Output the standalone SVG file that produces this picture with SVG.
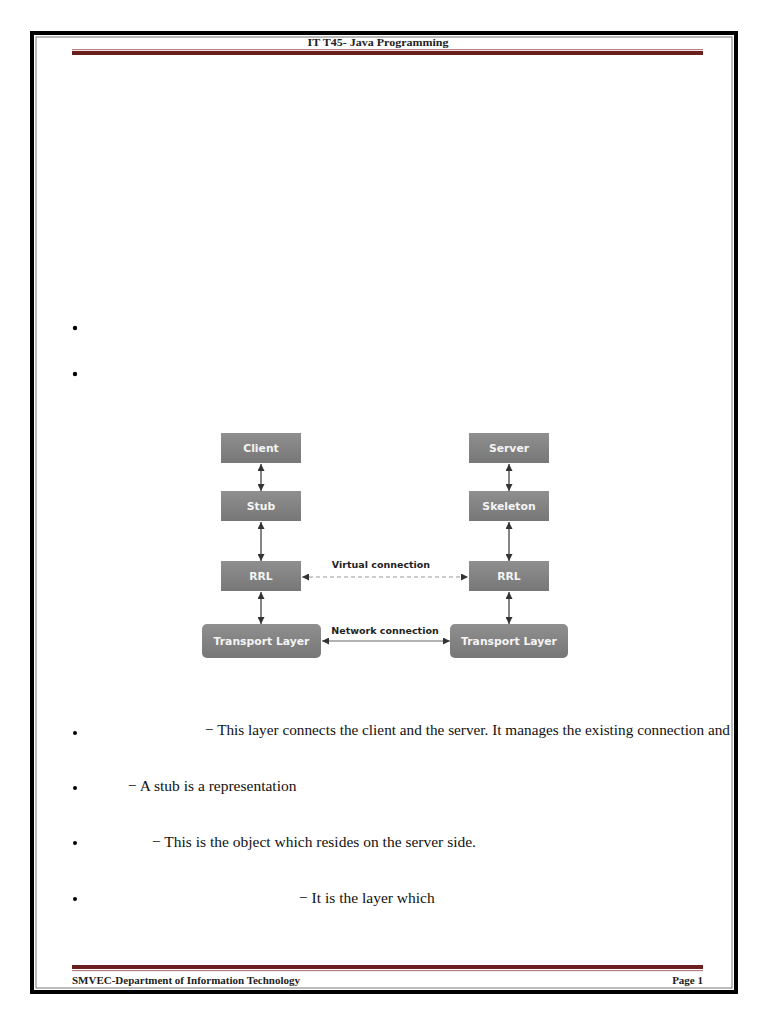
<svg xmlns="http://www.w3.org/2000/svg" width="768" height="1024" viewBox="0 0 768 1024">
<style>
.hdr{font-family:"Liberation Serif","DejaVu Serif",serif;font-size:11px;font-weight:bold;fill:#222;}
.ftr{font-family:"Liberation Serif","DejaVu Serif",serif;font-size:11px;font-weight:bold;fill:#222;}
.body{font-family:"Liberation Serif","Times New Roman",serif;font-size:15.5px;fill:#111;}
.nt{font-family:"DejaVu Sans",Verdana,sans-serif;font-size:10.8px;font-weight:bold;fill:#f4f4f4;text-anchor:middle;}
.lbl{font-family:"DejaVu Sans",Verdana,sans-serif;font-size:9.5px;font-weight:bold;fill:#222;text-anchor:middle;}
.node{fill:url(#g);}
.arr{stroke:#444;stroke-width:1.3;fill:none;marker-start:url(#ah);marker-end:url(#ah);}
.dash{stroke:#999;stroke-width:1.2;stroke-dasharray:4 3;fill:none;marker-start:url(#ah);marker-end:url(#ah);}
.solid{stroke:#666;stroke-width:1.2;fill:none;marker-start:url(#ah);marker-end:url(#ah);}
</style>
<defs>
<linearGradient id="g" x1="0" y1="0" x2="0" y2="1">
<stop offset="0" stop-color="#8f8f8f"/>
<stop offset="1" stop-color="#777"/>
</linearGradient>
<marker id="ah" viewBox="0 0 10 10" refX="10" refY="5" markerWidth="7" markerHeight="7" markerUnits="userSpaceOnUse" orient="auto-start-reverse">
<path d="M0,0 L10,5 L0,10 z" fill="#333"/>
</marker>
</defs>
<rect width="768" height="1024" fill="#fff"/>
<!-- page border -->
<rect x="32" y="33" width="704" height="959" fill="none" stroke="#000" stroke-width="4"/>
<rect x="36" y="37" width="696" height="951" fill="none" stroke="#777" stroke-width="1"/>
<!-- header -->
<text class="hdr" x="378" y="46" text-anchor="middle" textLength="141" lengthAdjust="spacingAndGlyphs">IT T45- Java Programming</text>
<rect x="72" y="49" width="631" height="1.2" fill="#b88080"/>
<rect x="72" y="51" width="631" height="4" fill="#6b1f1f"/>
<!-- footer -->
<rect x="72" y="965" width="631" height="4" fill="#6b1f1f"/>
<rect x="72" y="970" width="631" height="1.2" fill="#b88080"/>
<text class="ftr" x="72" y="984" textLength="228" lengthAdjust="spacingAndGlyphs">SMVEC-Department of Information Technology</text>
<text class="ftr" x="703" y="984" text-anchor="end">Page 1</text>
<!-- bullets -->
<g fill="#000">
<circle cx="75" cy="328" r="2.2"/>
<circle cx="75" cy="374" r="2.2"/>
<circle cx="75" cy="733" r="2"/>
<circle cx="75" cy="788" r="2"/>
<circle cx="75" cy="843" r="2"/>
<circle cx="75" cy="899" r="2"/>
</g>
<text class="body" x="205" y="735" textLength="525" lengthAdjust="spacingAndGlyphs">− This layer connects the client and the server. It manages the existing connection and</text>
<text class="body" x="128" y="791">− A stub is a representation</text>
<text class="body" x="152" y="847">− This is the object which resides on the server side.</text>
<text class="body" x="299" y="903">− It is the layer which</text>
<!-- connectors -->
<g id="connectors">
<line class="arr" x1="261" y1="464" x2="261" y2="491"/>
<line class="arr" x1="261" y1="522" x2="261" y2="561"/>
<line class="arr" x1="261" y1="592" x2="261" y2="624"/>
<line class="arr" x1="509" y1="464" x2="509" y2="491"/>
<line class="arr" x1="509" y1="522" x2="509" y2="561"/>
<line class="arr" x1="509" y1="592" x2="509" y2="624"/>
<line class="dash" x1="302" y1="577" x2="468" y2="577"/>
<text class="lbl" x="381" y="568">Virtual connection</text>
<line class="solid" x1="322" y1="641" x2="450" y2="641"/>
<text class="lbl" x="385" y="634">Network connection</text>
</g>
<!-- nodes -->
<g id="client"><rect class="node" x="221" y="433" width="80" height="30"/><text class="nt" x="261" y="452">Client</text></g>
<g id="stub"><rect class="node" x="221" y="491" width="80" height="30"/><text class="nt" x="261" y="510">Stub</text></g>
<g id="rrl-left"><rect class="node" x="221" y="561" width="80" height="30"/><text class="nt" x="261" y="580">RRL</text></g>
<g id="transport-left"><rect class="node" x="202" y="624" width="119" height="34" rx="5"/><text class="nt" x="261.5" y="645">Transport Layer</text></g>
<g id="server"><rect class="node" x="469" y="433" width="80" height="30"/><text class="nt" x="509" y="452">Server</text></g>
<g id="skeleton"><rect class="node" x="469" y="491" width="80" height="30"/><text class="nt" x="509" y="510">Skeleton</text></g>
<g id="rrl-right"><rect class="node" x="469" y="561" width="80" height="30"/><text class="nt" x="509" y="580">RRL</text></g>
<g id="transport-right"><rect class="node" x="450" y="624" width="118" height="34" rx="5"/><text class="nt" x="509" y="645">Transport Layer</text></g>
</svg>
